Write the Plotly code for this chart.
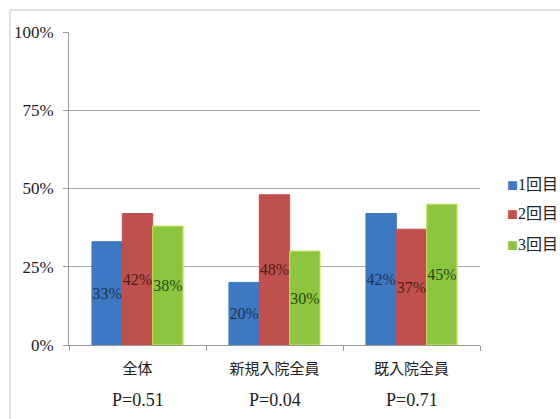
import plotly.graph_objects as go

# Survey results by group and round
categories = ["全体", "新規入院全員", "既入院全員"]
p_values = ["P=0.51", "P=0.04", "P=0.71"]
series_names = ["1回目", "2回目", "3回目"]
round1 = [33, 20, 42]
round2 = [42, 48, 37]
round3 = [38, 30, 45]

bar_colors = ["#3d78c2", "#c0504d", "#8cc63e"]
edge_colors = ["#3d78c2", "#c0504d", "#c9e35a"]
text_colors = ["#1d3550", "#4e1c18", "#234a12"]

SERIF = "Liberation Serif, Noto Sans CJK JP, serif"
CJK = "Noto Sans CJK JP, Liberation Serif, serif"

fig = go.Figure()
for name, vals, col, edge, tcol in zip(series_names, [round1, round2, round3],
                                       bar_colors, edge_colors, text_colors):
    fig.add_trace(go.Bar(
        x=categories, y=vals, name=name,
        marker=dict(color=col, line=dict(color=edge, width=1)),
        text=[f"{v}%" for v in vals],
        textposition="inside", insidetextanchor="middle",
        textangle=0, constraintext="none",
        textfont=dict(family=SERIF, size=16, color=tcol),
        showlegend=False,
    ))

# Legend: small colored square followed by the series name
legend_y = [0.518, 0.426, 0.326]
for name, col, ly in zip(series_names, bar_colors, legend_y):
    fig.add_annotation(
        x=1.061, xref="paper", y=ly, yref="paper",
        xanchor="left", yanchor="middle", showarrow=False,
        text=(f"<span style='font-size:11px;color:{col}'>■</span>"
              f"<span style='font-family:Liberation Serif'>{name[0]}</span>{name[1:]}"),
        font=dict(family=CJK, size=16, color="#222222"),
    )

# P-value line under each category
for cat, p in zip(categories, p_values):
    fig.add_annotation(
        x=cat, xref="x", y=-0.176, yref="paper", yanchor="middle",
        text=p, showarrow=False,
        font=dict(family=SERIF, size=18, color="#222222"),
    )

# light frame around the chart (left and top edges visible)
fig.add_shape(type="rect", xref="paper", yref="paper",
              x0=-0.1436, x1=1.6, y0=-0.6, y1=1.0703,
              line=dict(color="#c4c4c4", width=1), layer="below")

fig.update_layout(
    width=560, height=419,
    margin=dict(l=69, r=80, t=32, b=74),
    paper_bgcolor="white", plot_bgcolor="white",
    barmode="group", bargap=0.335, bargroupgap=0,
    showlegend=False,
)

fig.update_xaxes(
    type="category",
    showline=True, linecolor="#9a9a9a", linewidth=1,
    ticks="outside", tickson="boundaries", ticklen=5, tickcolor="#9a9a9a",
    tickfont=dict(family=CJK, size=15, color="#222222"),
    ticklabelstandoff=10,
    showgrid=False,
)
fig.update_yaxes(
    range=[0, 100], tickvals=[0, 25, 50, 75, 100],
    ticktext=["0%", "25%", "50%", "75%", "100%"],
    showline=True, linecolor="#9a9a9a", linewidth=1,
    ticks="outside", ticklen=5, tickcolor="#9a9a9a",
    ticklabelstandoff=6,
    showgrid=True, gridcolor="#a8a8a8", gridwidth=1,
    zeroline=False,
    tickfont=dict(family=SERIF, size=17, color="#222222"),
)

fig.write_html("out.html")
